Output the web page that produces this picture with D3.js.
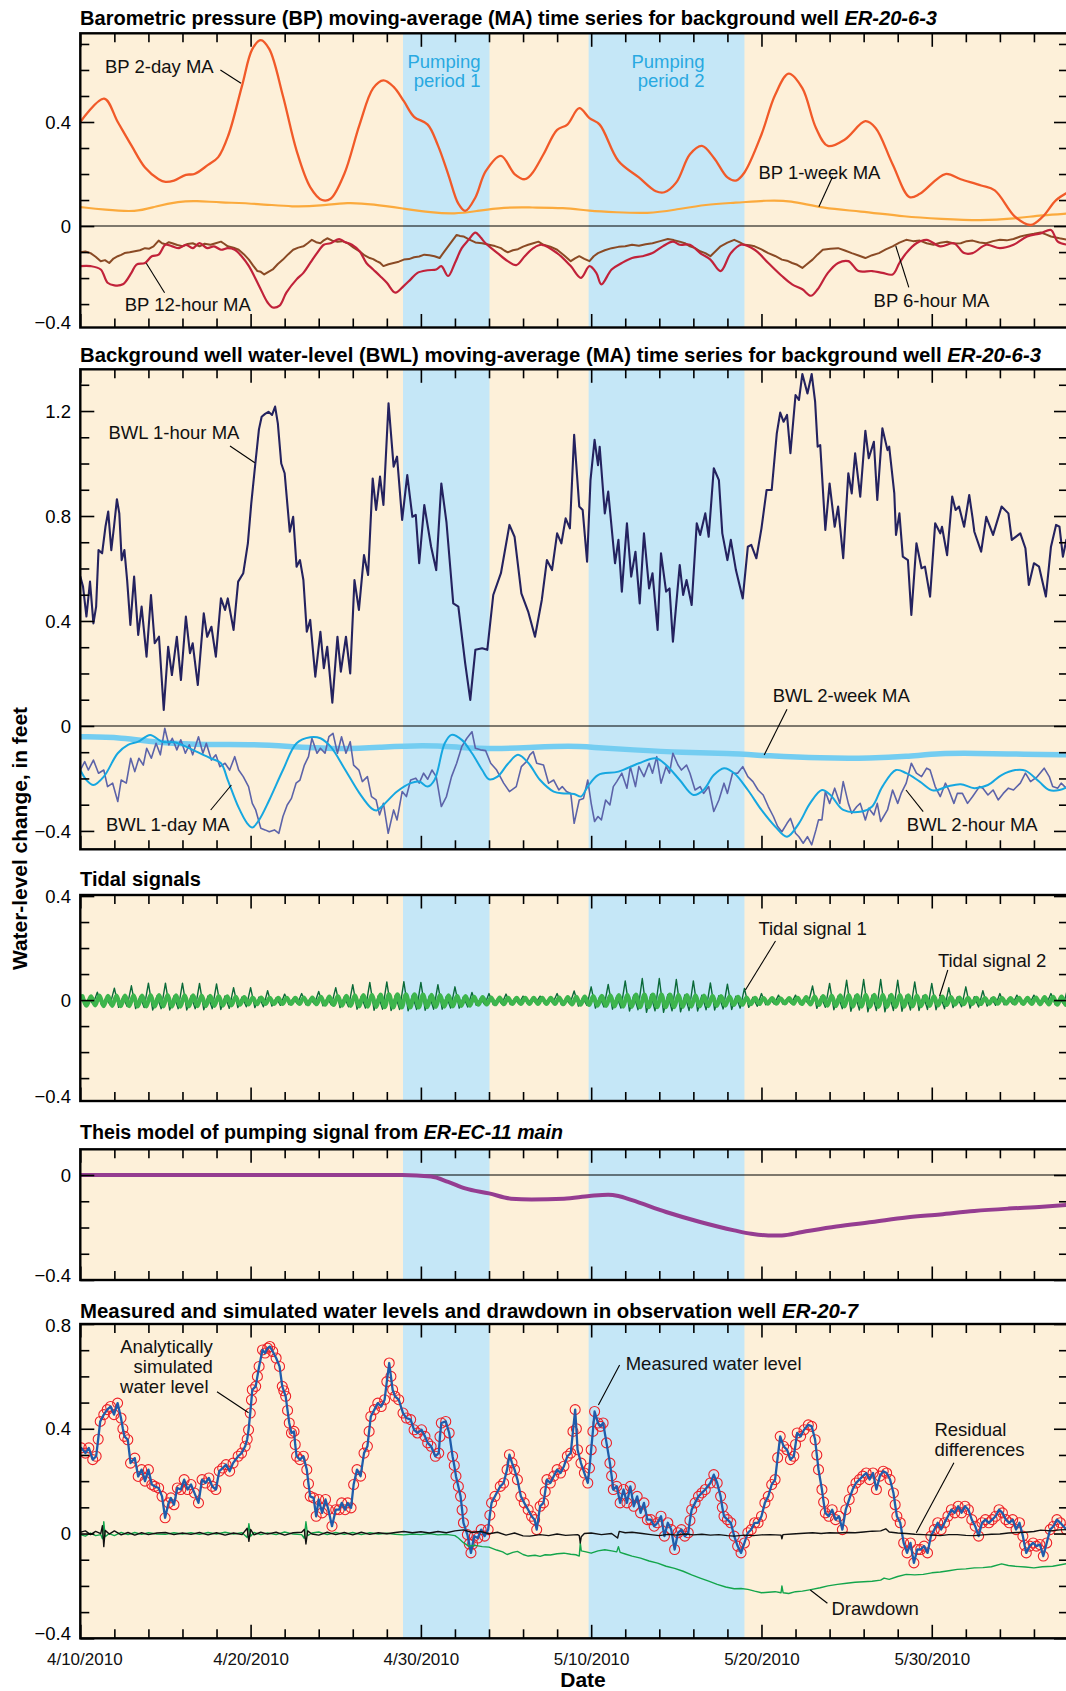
<!DOCTYPE html>
<html>
<head>
<meta charset="utf-8">
<script src="https://cdn.jsdelivr.net/npm/d3@7"></script>
<style>
  body { margin: 0; background: #fff; }
  svg { display: block; font-family: "Liberation Sans", Arial, Helvetica, sans-serif; }
</style>
</head>
<body>
<svg id="chart" width="1066" height="1691"></svg>
<script>
// ---------------------------------------------------------------------------
// Data: time is given in days after 4/10/2010 00:00, values in feet.
// ---------------------------------------------------------------------------

// Pumping periods at ER-EC-11 main [start day, end day]
const pumpingPeriods = [[18.95, 24.03], [29.85, 39.0]];

// Date tick labels (days after 4/10/2010)
const labelDays = [0, 10, 20, 30, 40, 50];

// Barometric pressure moving averages [day, value]
const bp2day = [[0,0.40],[1.4,0.49],[2.2,0.40],[3.0,0.31],[3.8,0.225],[4.6,0.18],[5.0,0.17],[5.5,0.175],[6.2,0.197],[6.7,0.20],[7.5,0.235],[8.1,0.265],[8.7,0.35],[9.5,0.54],[10.1,0.68],[10.6,0.715],[11.1,0.68],[11.9,0.50],[12.7,0.29],[13.5,0.15],[14.2,0.10],[14.7,0.105],[15.5,0.20],[16.4,0.39],[17.2,0.53],[17.8,0.56],[18.4,0.535],[19.0,0.48],[19.6,0.42],[20.4,0.39],[21.0,0.31],[21.6,0.20],[22.2,0.086],[22.6,0.058],[23.2,0.11],[23.8,0.21],[24.7,0.27],[25.5,0.20],[26.1,0.18],[26.5,0.20],[27.2,0.276],[28.0,0.37],[28.6,0.39],[29.3,0.453],[29.9,0.415],[30.5,0.39],[31.6,0.25],[32.8,0.187],[33.8,0.134],[34.3,0.13],[35.0,0.168],[35.8,0.276],[36.5,0.308],[37.2,0.263],[38.0,0.187],[38.5,0.175],[39.0,0.206],[40.0,0.352],[40.8,0.504],[41.6,0.586],[42.4,0.53],[43.2,0.377],[43.9,0.308],[44.9,0.333],[46.1,0.403],[46.7,0.377],[47.7,0.238],[48.7,0.111],[49.3,0.124],[50.8,0.20],[51.7,0.18],[52.9,0.156],[53.7,0.137],[54.9,0.035],[55.8,0.004],[56.5,0.035],[57.3,0.10],[58,0.13]];

const bp1week = [[0,0.073],[1.4,0.063],[3.3,0.053],[4.4,0.076],[5.8,0.095],[6.8,0.097],[8.1,0.091],[10.5,0.086],[12.5,0.073],[14.1,0.078],[15.7,0.092],[17.2,0.084],[19.0,0.067],[20.6,0.052],[22.0,0.046],[23.2,0.057],[24.9,0.073],[26.5,0.071],[28.4,0.071],[29.9,0.058],[31.4,0.053],[33.4,0.048],[34.8,0.061],[36.8,0.084],[38.4,0.089],[40.4,0.099],[41.6,0.099],[43.7,0.067],[45.7,0.058],[48.5,0.035],[50.5,0.028],[52.9,0.020],[54.9,0.029],[56.5,0.042],[58,0.048]];

const bp12hour = [[0,-0.154],[0.6,-0.154],[1.2,-0.167],[1.6,-0.218],[2.0,-0.228],[2.5,-0.224],[3.0,-0.18],[3.3,-0.148],[3.8,-0.142],[4.2,-0.116],[4.6,-0.11],[5.0,-0.072],[5.4,-0.078],[5.8,-0.085],[6.2,-0.072],[6.6,-0.085],[7.0,-0.066],[7.45,-0.085],[7.85,-0.078],[8.26,-0.091],[8.66,-0.085],[9.07,-0.091],[9.47,-0.116],[9.9,-0.154],[10.5,-0.23],[11.0,-0.294],[11.3,-0.313],[11.7,-0.306],[12.1,-0.256],[12.7,-0.205],[13.1,-0.18],[13.5,-0.142],[13.9,-0.104],[14.3,-0.072],[14.7,-0.066],[15.2,-0.05],[15.5,-0.06],[15.95,-0.072],[16.4,-0.097],[16.8,-0.142],[17.2,-0.167],[17.6,-0.192],[18.0,-0.218],[18.5,-0.256],[19.0,-0.23],[19.4,-0.205],[19.8,-0.18],[20.4,-0.17],[20.9,-0.167],[21.2,-0.154],[21.6,-0.192],[22.0,-0.142],[22.4,-0.085],[22.8,-0.053],[23.2,-0.025],[23.5,-0.043],[23.8,-0.066],[24.5,-0.104],[25.1,-0.135],[25.6,-0.15],[26.1,-0.116],[26.6,-0.085],[27.1,-0.072],[28.0,-0.104],[28.8,-0.154],[29.4,-0.199],[29.9,-0.154],[30.3,-0.18],[30.6,-0.224],[31.2,-0.167],[31.8,-0.142],[32.4,-0.123],[33.0,-0.116],[33.6,-0.104],[34.2,-0.078],[34.8,-0.06],[35.2,-0.072],[35.8,-0.072],[36.4,-0.104],[37.0,-0.129],[37.6,-0.173],[38.2,-0.104],[38.8,-0.072],[39.6,-0.091],[40.4,-0.142],[41.2,-0.192],[41.8,-0.224],[42.4,-0.243],[42.9,-0.268],[43.3,-0.243],[43.9,-0.18],[44.5,-0.142],[45.1,-0.135],[45.7,-0.173],[46.5,-0.173],[47.1,-0.18],[47.7,-0.186],[48.1,-0.142],[48.5,-0.104],[49.1,-0.066],[49.7,-0.053],[50.5,-0.078],[51.3,-0.066],[51.9,-0.104],[52.4,-0.104],[53.2,-0.072],[54.0,-0.085],[54.8,-0.072],[55.6,-0.04],[56.4,-0.028],[57.0,-0.015],[57.4,-0.06],[58,-0.072]];

const bp6hour = [[0,-0.101],[0.3,-0.098],[0.6,-0.104],[0.9,-0.118],[1.2,-0.135],[1.45,-0.131],[1.7,-0.142],[1.95,-0.125],[2.2,-0.116],[2.4,-0.111],[2.6,-0.104],[2.9,-0.101],[3.2,-0.097],[3.5,-0.093],[3.8,-0.085],[4.05,-0.087],[4.3,-0.078],[4.6,-0.056],[4.8,-0.066],[5.0,-0.07],[5.2,-0.062],[5.4,-0.066],[5.7,-0.073],[6.0,-0.078],[6.3,-0.069],[6.6,-0.066],[6.8,-0.072],[7.0,-0.078],[7.3,-0.068],[7.65,-0.072],[7.95,-0.066],[8.26,-0.06],[8.45,-0.068],[8.66,-0.078],[9.0,-0.083],[9.3,-0.091],[9.6,-0.108],[9.9,-0.129],[10.15,-0.152],[10.4,-0.173],[10.6,-0.176],[10.8,-0.186],[11.05,-0.176],[11.3,-0.167],[11.6,-0.146],[11.9,-0.129],[12.2,-0.109],[12.5,-0.091],[12.8,-0.083],[13.1,-0.078],[13.35,-0.066],[13.6,-0.053],[13.85,-0.062],[14.1,-0.066],[14.3,-0.055],[14.5,-0.047],[14.8,-0.056],[15.1,-0.06],[15.4,-0.058],[15.7,-0.066],[16.05,-0.083],[16.4,-0.097],[16.7,-0.113],[17.0,-0.123],[17.2,-0.127],[17.4,-0.135],[17.6,-0.141],[17.8,-0.154],[18.1,-0.147],[18.4,-0.142],[18.7,-0.137],[19.0,-0.129],[19.3,-0.127],[19.6,-0.12],[19.9,-0.117],[20.2,-0.11],[20.5,-0.112],[20.8,-0.116],[21.1,-0.123],[21.35,-0.1],[21.6,-0.078],[21.85,-0.056],[22.1,-0.034],[22.3,-0.038],[22.5,-0.04],[22.85,-0.052],[23.2,-0.063],[23.6,-0.066],[24.0,-0.072],[24.35,-0.077],[24.7,-0.085],[24.9,-0.094],[25.1,-0.101],[25.4,-0.093],[25.7,-0.089],[26.0,-0.079],[26.3,-0.072],[26.6,-0.066],[26.9,-0.06],[27.2,-0.072],[27.6,-0.079],[28.0,-0.091],[28.4,-0.112],[28.8,-0.135],[29.05,-0.124],[29.3,-0.116],[29.6,-0.126],[29.9,-0.135],[30.15,-0.116],[30.4,-0.104],[30.8,-0.093],[31.2,-0.085],[31.6,-0.08],[32.0,-0.078],[32.4,-0.072],[32.8,-0.076],[33.2,-0.07],[33.6,-0.066],[34.05,-0.058],[34.5,-0.05],[34.85,-0.054],[35.2,-0.06],[35.5,-0.066],[35.8,-0.078],[36.1,-0.085],[36.4,-0.097],[36.7,-0.104],[37.0,-0.116],[37.3,-0.097],[37.6,-0.078],[38.0,-0.064],[38.4,-0.053],[38.7,-0.062],[39.0,-0.072],[39.3,-0.074],[39.6,-0.078],[40.0,-0.09],[40.4,-0.104],[40.8,-0.115],[41.2,-0.129],[41.5,-0.133],[41.8,-0.142],[42.1,-0.149],[42.4,-0.161],[42.7,-0.145],[43.0,-0.129],[43.3,-0.109],[43.6,-0.091],[44.05,-0.087],[44.5,-0.085],[44.9,-0.094],[45.3,-0.104],[45.7,-0.113],[46.1,-0.123],[46.5,-0.112],[46.9,-0.104],[47.3,-0.09],[47.7,-0.078],[48.1,-0.064],[48.5,-0.053],[48.9,-0.058],[49.3,-0.056],[49.7,-0.066],[50.1,-0.072],[50.5,-0.064],[50.9,-0.06],[51.3,-0.067],[51.7,-0.066],[52.05,-0.058],[52.4,-0.056],[52.8,-0.063],[53.2,-0.066],[53.6,-0.058],[54.0,-0.053],[54.4,-0.055],[54.8,-0.05],[55.2,-0.04],[55.6,-0.034],[56.0,-0.03],[56.4,-0.025],[56.7,-0.032],[57.0,-0.04],[57.5,-0.047],[58,-0.053]];

// Background well water-level moving averages [day, value]
const bwl1hour = [[0,0.569],[0.16,0.531],[0.36,0.417],[0.57,0.55],[0.77,0.391],[0.93,0.455],[1.07,0.67],[1.28,0.658],[1.48,0.76],[1.64,0.817],[1.82,0.67],[1.98,0.76],[2.15,0.864],[2.29,0.81],[2.43,0.632],[2.59,0.67],[2.75,0.556],[2.94,0.385],[3.16,0.569],[3.4,0.347],[3.6,0.455],[3.89,0.264],[4.15,0.499],[4.37,0.315],[4.62,0.34],[4.9,0.061],[5.16,0.302],[5.38,0.194],[5.67,0.34],[5.91,0.175],[6.2,0.417],[6.44,0.277],[6.6,0.315],[6.9,0.156],[7.25,0.429],[7.45,0.34],[7.7,0.378],[7.96,0.264],[8.26,0.486],[8.5,0.442],[8.66,0.486],[9.0,0.366],[9.27,0.55],[9.57,0.582],[9.84,0.696],[10.04,0.848],[10.28,1.001],[10.49,1.13],[10.65,1.178],[10.85,1.189],[11.05,1.197],[11.26,1.185],[11.44,1.217],[11.6,1.153],[11.8,1.0],[12.0,0.963],[12.3,0.74],[12.5,0.797],[12.7,0.607],[12.9,0.632],[13.1,0.556],[13.3,0.359],[13.5,0.404],[13.8,0.188],[14.1,0.359],[14.3,0.22],[14.5,0.302],[14.8,0.089],[15.1,0.34],[15.3,0.207],[15.6,0.34],[15.85,0.2],[16.1,0.556],[16.36,0.442],[16.66,0.651],[16.9,0.575],[17.17,0.943],[17.37,0.823],[17.6,0.95],[17.8,0.842],[18.1,1.229],[18.4,0.988],[18.6,1.026],[18.9,0.785],[19.2,0.956],[19.5,0.797],[19.7,0.804],[19.9,0.62],[20.2,0.842],[20.6,0.683],[20.9,0.594],[21.2,0.924],[21.5,0.778],[21.9,0.467],[22.2,0.455],[22.6,0.239],[22.9,0.099],[23.2,0.29],[23.6,0.296],[23.9,0.29],[24.25,0.499],[24.7,0.582],[25.2,0.766],[25.5,0.721],[25.9,0.505],[26.3,0.436],[26.7,0.34],[27.1,0.48],[27.4,0.632],[27.7,0.594],[28.0,0.734],[28.25,0.696],[28.5,0.791],[28.75,0.753],[29.0,1.109],[29.3,0.836],[29.5,0.823],[29.76,0.626],[29.96,0.937],[30.2,1.09],[30.4,0.994],[30.5,1.064],[30.8,0.81],[31.0,0.893],[31.4,0.62],[31.6,0.709],[31.8,0.512],[32.1,0.772],[32.35,0.569],[32.6,0.664],[32.85,0.467],[33.1,0.734],[33.4,0.524],[33.6,0.582],[33.9,0.366],[34.1,0.658],[34.4,0.512],[34.6,0.524],[34.8,0.321],[35.2,0.613],[35.4,0.499],[35.6,0.556],[35.9,0.461],[36.2,0.772],[36.4,0.728],[36.7,0.81],[36.9,0.721],[37.2,0.982],[37.5,0.937],[37.7,0.734],[38.0,0.632],[38.2,0.709],[38.5,0.594],[38.9,0.486],[39.2,0.683],[39.4,0.69],[39.7,0.639],[40.0,0.753],[40.3,0.899],[40.6,0.899],[40.9,1.115],[41.1,1.194],[41.3,1.159],[41.5,1.185],[41.7,1.039],[42.0,1.261],[42.2,1.242],[42.4,1.341],[42.7,1.267],[42.95,1.341],[43.15,1.236],[43.3,1.064],[43.45,1.07],[43.75,0.747],[44.0,0.924],[44.3,0.759],[44.5,0.836],[44.8,0.639],[45.1,0.963],[45.3,0.886],[45.5,1.039],[45.8,0.874],[46.1,1.125],[46.3,1.02],[46.6,1.083],[46.8,0.861],[47.1,1.134],[47.4,1.051],[47.5,1.064],[47.8,0.886],[47.9,0.728],[48.1,0.81],[48.3,0.645],[48.6,0.632],[48.8,0.423],[49.1,0.696],[49.4,0.601],[49.6,0.607],[49.9,0.493],[50.2,0.772],[50.5,0.734],[50.6,0.759],[50.9,0.651],[51.2,0.874],[51.4,0.823],[51.6,0.836],[51.9,0.759],[52.2,0.88],[52.4,0.791],[52.5,0.74],[52.9,0.664],[53.2,0.797],[53.6,0.728],[54.1,0.836],[54.5,0.81],[54.7,0.709],[55.2,0.734],[55.5,0.677],[55.7,0.537],[56.0,0.62],[56.3,0.607],[56.7,0.493],[57.0,0.683],[57.3,0.766],[57.5,0.759],[57.7,0.645],[57.9,0.709]];

const bwl2hour = [[0,-0.168],[0.26,-0.136],[0.47,-0.168],[0.77,-0.13],[1.07,-0.18],[1.38,-0.168],[1.6,-0.231],[1.9,-0.218],[2.2,-0.288],[2.4,-0.206],[2.7,-0.218],[2.96,-0.123],[3.2,-0.174],[3.44,-0.123],[3.7,-0.149],[3.9,-0.085],[4.17,-0.123],[4.45,-0.066],[4.7,-0.11],[4.96,-0.009],[5.2,-0.072],[5.4,-0.047],[5.67,-0.091],[5.9,-0.053],[6.17,-0.104],[6.4,-0.072],[6.6,-0.11],[6.94,-0.041],[7.2,-0.104],[7.4,-0.066],[7.7,-0.13],[7.96,-0.11],[8.2,-0.155],[8.5,-0.142],[8.77,-0.168],[9.07,-0.117],[9.3,-0.168],[9.57,-0.193],[9.88,-0.231],[10.1,-0.295],[10.3,-0.32],[10.6,-0.39],[10.85,-0.396],[11.1,-0.403],[11.4,-0.396],[11.66,-0.409],[11.9,-0.345],[12.15,-0.301],[12.4,-0.276],[12.67,-0.218],[12.9,-0.206],[13.16,-0.149],[13.4,-0.117],[13.6,-0.047],[13.9,-0.104],[14.1,-0.085],[14.37,-0.104],[14.6,-0.041],[14.84,-0.028],[15.1,-0.104],[15.34,-0.041],[15.6,-0.104],[15.85,-0.06],[16.05,-0.149],[16.36,-0.168],[16.56,-0.212],[16.86,-0.193],[17.1,-0.269],[17.37,-0.282],[17.57,-0.339],[17.8,-0.295],[18.08,-0.409],[18.4,-0.32],[18.6,-0.358],[18.9,-0.25],[19.15,-0.269],[19.4,-0.206],[19.7,-0.199],[19.9,-0.218],[20.16,-0.18],[20.4,-0.203],[20.65,-0.168],[20.9,-0.193],[21.2,-0.307],[21.5,-0.269],[21.8,-0.193],[22.1,-0.142],[22.4,-0.079],[22.7,-0.047],[23.0,-0.022],[23.2,-0.085],[23.5,-0.091],[23.8,-0.094],[24.1,-0.142],[24.45,-0.168],[24.86,-0.218],[25.2,-0.25],[25.6,-0.231],[25.9,-0.155],[26.2,-0.136],[26.4,-0.11],[26.6,-0.098],[26.8,-0.142],[27.2,-0.149],[27.5,-0.218],[27.8,-0.206],[28.1,-0.244],[28.3,-0.231],[28.55,-0.25],[28.8,-0.257],[29.0,-0.371],[29.3,-0.282],[29.55,-0.276],[29.8,-0.206],[30.0,-0.295],[30.2,-0.364],[30.4,-0.345],[30.6,-0.358],[30.85,-0.282],[31.1,-0.301],[31.3,-0.231],[31.5,-0.212],[31.8,-0.18],[32.1,-0.237],[32.3,-0.155],[32.6,-0.231],[32.8,-0.155],[33.1,-0.193],[33.4,-0.142],[33.6,-0.18],[33.85,-0.117],[34.1,-0.218],[34.4,-0.155],[34.6,-0.18],[34.8,-0.104],[35.1,-0.149],[35.3,-0.168],[35.6,-0.149],[35.8,-0.18],[36.1,-0.244],[36.4,-0.231],[36.6,-0.257],[36.9,-0.231],[37.2,-0.326],[37.5,-0.282],[37.8,-0.218],[38.0,-0.257],[38.3,-0.18],[38.6,-0.18],[38.9,-0.155],[39.2,-0.193],[39.5,-0.212],[39.8,-0.244],[40.1,-0.263],[40.4,-0.307],[40.7,-0.345],[40.95,-0.383],[41.2,-0.403],[41.5,-0.371],[41.7,-0.352],[42.0,-0.409],[42.2,-0.422],[42.45,-0.447],[42.7,-0.422],[42.95,-0.453],[43.2,-0.396],[43.35,-0.358],[43.55,-0.358],[43.75,-0.25],[44.0,-0.295],[44.3,-0.237],[44.6,-0.295],[44.8,-0.212],[45.1,-0.295],[45.3,-0.333],[45.6,-0.307],[45.8,-0.295],[46.1,-0.358],[46.3,-0.314],[46.6,-0.339],[46.8,-0.295],[47.0,-0.364],[47.4,-0.32],[47.7,-0.244],[48.0,-0.295],[48.2,-0.257],[48.5,-0.218],[48.8,-0.142],[49.1,-0.18],[49.4,-0.193],[49.7,-0.161],[49.9,-0.168],[50.2,-0.231],[50.5,-0.269],[50.8,-0.218],[51.0,-0.244],[51.3,-0.295],[51.5,-0.257],[51.8,-0.257],[52.1,-0.295],[52.4,-0.269],[52.8,-0.231],[53.0,-0.237],[53.3,-0.263],[53.6,-0.244],[53.9,-0.282],[54.2,-0.257],[54.5,-0.237],[54.8,-0.244],[55.2,-0.218],[55.5,-0.18],[55.8,-0.212],[56.2,-0.193],[56.6,-0.161],[56.9,-0.193],[57.1,-0.231],[57.4,-0.237],[57.6,-0.218],[57.9,-0.237]];

const bwl1day = [[0,-0.168],[0.36,-0.206],[0.77,-0.225],[1.38,-0.193],[2.2,-0.104],[2.8,-0.072],[3.4,-0.06],[4.1,-0.034],[4.8,-0.06],[5.6,-0.063],[6.6,-0.091],[7.65,-0.123],[8.26,-0.142],[8.66,-0.206],[9.27,-0.307],[9.8,-0.371],[10.1,-0.387],[10.5,-0.358],[11.1,-0.282],[11.9,-0.168],[12.7,-0.066],[13.5,-0.043],[14.1,-0.047],[14.7,-0.079],[15.5,-0.161],[16.4,-0.257],[17.1,-0.314],[17.4,-0.322],[17.8,-0.301],[18.6,-0.25],[19.4,-0.218],[19.9,-0.212],[20.4,-0.231],[20.8,-0.206],[21.4,-0.066],[21.8,-0.034],[22.4,-0.053],[23.0,-0.104],[23.6,-0.168],[24.0,-0.203],[24.5,-0.193],[25.1,-0.145],[25.7,-0.11],[26.3,-0.14],[27.0,-0.206],[27.8,-0.25],[28.4,-0.257],[29.0,-0.259],[29.4,-0.269],[29.8,-0.231],[30.4,-0.187],[31.6,-0.174],[32.8,-0.142],[33.8,-0.123],[34.4,-0.149],[35.2,-0.206],[36.0,-0.263],[36.6,-0.244],[37.2,-0.187],[37.8,-0.161],[38.4,-0.18],[39.2,-0.244],[40.0,-0.32],[40.8,-0.383],[41.5,-0.422],[42.2,-0.371],[42.85,-0.295],[43.55,-0.244],[44.05,-0.263],[44.8,-0.32],[45.9,-0.326],[46.5,-0.307],[47.1,-0.231],[47.9,-0.168],[48.5,-0.18],[49.3,-0.212],[50.1,-0.246],[50.9,-0.231],[51.7,-0.222],[52.5,-0.237],[53.3,-0.225],[54.1,-0.187],[54.9,-0.168],[55.5,-0.17],[56.3,-0.212],[56.9,-0.244],[57.5,-0.244],[58,-0.231]];

const bwl2week = [[0,-0.041],[2.4,-0.043],[4.8,-0.066],[7.45,-0.072],[9.9,-0.069],[12.5,-0.079],[15.5,-0.089],[17.6,-0.081],[20.2,-0.072],[22.2,-0.081],[24.25,-0.089],[26.7,-0.081],[28.8,-0.076],[30,-0.081],[32.4,-0.091],[35.4,-0.102],[38,-0.104],[40.4,-0.114],[43.45,-0.123],[46.5,-0.123],[48.5,-0.117],[50.5,-0.104],[52.5,-0.104],[55.5,-0.108],[58,-0.11]];

// Tidal signals: one row per day; the hours of each row's values are listed separately
const tidal1Hours = [0, 6, 12, 18];
const tidal1 = [
  [0.025,-0.018,0.006,-0.015],[0.03,-0.02,0.008,-0.018],[0.046,-0.028,0.012,-0.025],[0.055,-0.033,0.014,-0.029],
  [0.065,-0.038,0.016,-0.033],[0.065,-0.038,0.016,-0.033],[0.065,-0.038,0.016,-0.033],[0.064,-0.037,0.016,-0.033],
  [0.062,-0.036,0.016,-0.032],[0.048,-0.029,0.012,-0.026],[0.048,-0.029,0.012,-0.026],[0.036,-0.023,0.009,-0.02],
  [0.023,-0.017,0.006,-0.014],[0.025,-0.018,0.006,-0.015],[0.033,-0.022,0.008,-0.019],[0.048,-0.029,0.012,-0.026],
  [0.059,-0.035,0.015,-0.031],[0.068,-0.039,0.017,-0.035],[0.07,-0.04,0.018,-0.036],[0.071,-0.041,0.018,-0.036],
  [0.068,-0.039,0.017,-0.035],[0.059,-0.035,0.015,-0.031],[0.051,-0.031,0.013,-0.027],[0.029,-0.02,0.007,-0.017],
  [0.025,-0.018,0.006,-0.015],[0.023,-0.017,0.006,-0.014],[0.015,-0.013,0.004,-0.011],[0.015,-0.013,0.004,-0.011],
  [0.025,-0.018,0.006,-0.015],[0.035,-0.023,0.009,-0.02],[0.051,-0.031,0.013,-0.027],[0.06,-0.035,0.015,-0.031],
  [0.074,-0.042,0.019,-0.037],[0.083,-0.047,0.021,-0.041],[0.083,-0.047,0.021,-0.041],[0.079,-0.045,0.02,-0.04],
  [0.074,-0.042,0.019,-0.037],[0.066,-0.038,0.017,-0.034],[0.061,-0.036,0.015,-0.031],[0.045,-0.028,0.011,-0.024],
  [0.025,-0.018,0.006,-0.015],[0.019,-0.015,0.005,-0.013],[0.019,-0.015,0.005,-0.013],[0.054,-0.032,0.014,-0.028],
  [0.064,-0.037,0.016,-0.033],[0.076,-0.043,0.019,-0.038],[0.079,-0.045,0.02,-0.04],[0.079,-0.045,0.02,-0.04],
  [0.076,-0.043,0.019,-0.038],[0.07,-0.04,0.018,-0.036],[0.064,-0.037,0.016,-0.033],[0.048,-0.029,0.012,-0.026],
  [0.051,-0.031,0.013,-0.027],[0.036,-0.023,0.009,-0.02],[0.025,-0.018,0.006,-0.015],[0.019,-0.015,0.005,-0.013],
  [0.019,-0.015,0.005,-0.013],[0.025,-0.018,0.006,-0.015],[0.051,-0.031,0.013,-0.027]
];
const tidal2Hours = [3, 9, 15, 21];
const tidal2 = [
  [0.015,-0.021,0.014,-0.02],[0.017,-0.023,0.016,-0.022],[0.017,-0.023,0.017,-0.023],[0.018,-0.024,0.017,-0.024],
  [0.019,-0.025,0.019,-0.024],[0.019,-0.025,0.018,-0.025],[0.018,-0.024,0.018,-0.023],[0.017,-0.023,0.016,-0.022],
  [0.015,-0.021,0.014,-0.02],[0.012,-0.018,0.011,-0.017],[0.01,-0.016,0.01,-0.015],[0.009,-0.015,0.009,-0.015],
  [0.009,-0.015,0.009,-0.015],[0.01,-0.016,0.01,-0.016],[0.012,-0.018,0.013,-0.019],[0.015,-0.021,0.016,-0.022],
  [0.018,-0.024,0.019,-0.025],[0.02,-0.026,0.021,-0.027],[0.022,-0.028,0.022,-0.028],[0.022,-0.028,0.022,-0.028],
  [0.021,-0.027,0.02,-0.026],[0.019,-0.025,0.018,-0.024],[0.016,-0.022,0.015,-0.021],[0.012,-0.018,0.011,-0.017],
  [0.01,-0.016,0.01,-0.016],[0.009,-0.015,0.009,-0.015],[0.009,-0.015,0.009,-0.015],[0.009,-0.015,0.009,-0.015],
  [0.01,-0.016,0.011,-0.017],[0.012,-0.018,0.013,-0.019],[0.015,-0.021,0.016,-0.022],[0.018,-0.024,0.019,-0.025],
  [0.02,-0.026,0.021,-0.027],[0.021,-0.027,0.021,-0.027],[0.021,-0.027,0.021,-0.027],[0.02,-0.026,0.019,-0.025],
  [0.018,-0.024,0.017,-0.023],[0.016,-0.022,0.015,-0.021],[0.013,-0.019,0.012,-0.018],[0.01,-0.016,0.009,-0.015],
  [0.008,-0.014,0.008,-0.014],[0.007,-0.013,0.008,-0.014],[0.009,-0.015,0.011,-0.017],[0.013,-0.019,0.015,-0.021],
  [0.017,-0.023,0.018,-0.024],[0.019,-0.025,0.019,-0.025],[0.02,-0.026,0.02,-0.026],[0.02,-0.026,0.02,-0.026],
  [0.019,-0.025,0.018,-0.024],[0.017,-0.023,0.016,-0.022],[0.014,-0.02,0.013,-0.019],[0.011,-0.017,0.01,-0.016],
  [0.009,-0.015,0.009,-0.015],[0.008,-0.014,0.008,-0.014],[0.008,-0.014,0.008,-0.014],[0.009,-0.015,0.009,-0.015],
  [0.01,-0.016,0.011,-0.017],[0.012,-0.018,0.013,-0.019],[0.014,-0.02,0.014,-0.02]
];

// Theis model of the pumping signal [day, value]
const theis = [[0,0],[18.9,0],[20.6,-0.006],[21.6,-0.026],[22.6,-0.051],[24.0,-0.07],[25.3,-0.09],[26.5,-0.093],[28.4,-0.09],[29.9,-0.08],[31.0,-0.075],[31.6,-0.08],[32.4,-0.096],[34.4,-0.141],[36.4,-0.179],[38.4,-0.211],[39.4,-0.224],[40.4,-0.23],[41.2,-0.23],[42.4,-0.217],[44.4,-0.196],[46.5,-0.179],[48.5,-0.162],[50.5,-0.15],[52.5,-0.137],[54.5,-0.128],[56.5,-0.121],[58,-0.114]];

// Observation well ER-20-7 [day, value]
const measured = [[0.06,0.327],[0.3,0.307],[0.5,0.327],[0.73,0.282],[0.93,0.295],[1.05,0.36],[1.17,0.428],[1.38,0.454],[1.58,0.473],[1.78,0.485],[1.98,0.454],[2.19,0.498],[2.39,0.441],[2.5,0.4],[2.59,0.371],[2.79,0.358],[2.95,0.269],[3.2,0.288],[3.4,0.218],[3.6,0.244],[3.8,0.2],[4.0,0.244],[4.2,0.187],[4.37,0.18],[4.6,0.174],[4.8,0.142],[4.98,0.06],[5.18,0.117],[5.32,0.136],[5.5,0.11],[5.7,0.174],[5.9,0.168],[6.1,0.206],[6.3,0.168],[6.5,0.187],[6.7,0.155],[6.94,0.117],[7.15,0.206],[7.35,0.193],[7.55,0.212],[7.75,0.18],[7.96,0.168],[8.16,0.238],[8.36,0.25],[8.56,0.263],[8.77,0.238],[8.97,0.269],[9.27,0.295],[9.47,0.307],[9.68,0.333],[9.8,0.36],[9.88,0.396],[9.98,0.46],[10.05,0.51],[10.1,0.549],[10.3,0.562],[10.4,0.6],[10.5,0.638],[10.7,0.701],[10.85,0.689],[11.0,0.708],[11.13,0.714],[11.3,0.695],[11.5,0.67],[11.7,0.638],[11.86,0.562],[11.95,0.545],[12.06,0.524],[12.17,0.47],[12.27,0.422],[12.4,0.384],[12.55,0.39],[12.62,0.34],[12.7,0.295],[12.9,0.282],[13.1,0.295],[13.3,0.244],[13.4,0.19],[13.5,0.142],[13.7,0.136],[13.85,0.066],[14.0,0.13],[14.2,0.079],[14.4,0.13],[14.57,0.091],[14.78,0.028],[15.0,0.091],[15.2,0.091],[15.35,0.117],[15.55,0.091],[15.7,0.117],[15.9,0.098],[16.05,0.187],[16.25,0.244],[16.46,0.219],[16.66,0.307],[16.86,0.333],[16.96,0.39],[17.06,0.447],[17.27,0.473],[17.47,0.498],[17.67,0.485],[17.87,0.511],[18.0,0.58],[18.14,0.651],[18.24,0.6],[18.34,0.549],[18.48,0.524],[18.7,0.511],[18.95,0.46],[19.15,0.441],[19.4,0.435],[19.6,0.396],[19.8,0.384],[20.04,0.396],[20.24,0.371],[20.4,0.346],[20.6,0.333],[20.85,0.295],[21.05,0.307],[21.12,0.37],[21.2,0.422],[21.46,0.428],[21.66,0.384],[21.86,0.295],[21.96,0.26],[22.06,0.219],[22.2,0.18],[22.33,0.142],[22.42,0.09],[22.5,0.041],[22.73,-0.004],[22.84,-0.04],[22.94,-0.074],[23.04,-0.04],[23.14,-0.01],[23.34,-0.017],[23.54,0.015],[23.74,-0.01],[23.95,0.015],[24.05,0.07],[24.15,0.117],[24.35,0.142],[24.66,0.18],[24.86,0.193],[25.06,0.244],[25.2,0.301],[25.35,0.27],[25.5,0.244],[25.67,0.206],[25.87,0.142],[26.07,0.117],[26.3,0.091],[26.5,0.066],[26.68,0.053],[26.8,0.015],[27.0,0.104],[27.2,0.117],[27.3,0.16],[27.4,0.206],[27.6,0.193],[27.8,0.219],[28.0,0.244],[28.2,0.231],[28.4,0.257],[28.6,0.295],[28.8,0.307],[28.93,0.39],[29.06,0.473],[29.13,0.4],[29.2,0.32],[29.4,0.269],[29.6,0.231],[29.8,0.193],[29.9,0.25],[30.0,0.32],[30.1,0.39],[30.2,0.466],[30.4,0.422],[30.54,0.409],[30.7,0.422],[30.9,0.346],[31.1,0.269],[31.2,0.22],[31.3,0.168],[31.5,0.18],[31.7,0.117],[31.9,0.168],[32.1,0.117],[32.3,0.18],[32.5,0.104],[32.7,0.142],[32.9,0.079],[33.1,0.117],[33.3,0.053],[33.5,0.053],[33.7,0.028],[33.9,0.041],[34.1,0.066],[34.3,-0.01],[34.5,0.041],[34.7,0.015],[34.9,-0.061],[35.1,0.003],[35.3,0.015],[35.5,-0.01],[35.7,0.003],[35.8,0.05],[35.9,0.091],[36.1,0.117],[36.3,0.142],[36.5,0.155],[36.7,0.168],[37.0,0.193],[37.2,0.225],[37.4,0.193],[37.6,0.142],[37.7,0.1],[37.8,0.066],[38.0,0.053],[38.2,0.041],[38.4,-0.01],[38.6,-0.048],[38.8,-0.074],[39.0,-0.036],[39.2,0.003],[39.4,0.015],[39.6,0.041],[39.8,0.041],[40.0,0.066],[40.2,0.117],[40.4,0.142],[40.6,0.187],[40.8,0.206],[40.95,0.29],[41.1,0.371],[41.3,0.333],[41.5,0.32],[41.7,0.282],[41.9,0.295],[42.0,0.34],[42.1,0.384],[42.3,0.371],[42.5,0.396],[42.75,0.415],[42.95,0.409],[43.15,0.358],[43.25,0.3],[43.35,0.244],[43.55,0.168],[43.65,0.12],[43.75,0.079],[43.95,0.066],[44.15,0.091],[44.35,0.053],[44.55,0.066],[44.75,0.015],[44.95,0.091],[45.15,0.13],[45.35,0.168],[45.55,0.193],[45.75,0.206],[45.95,0.219],[46.15,0.231],[46.35,0.206],[46.55,0.231],[46.75,0.168],[46.95,0.219],[47.15,0.238],[47.35,0.231],[47.55,0.206],[47.75,0.155],[47.85,0.11],[47.95,0.066],[48.15,0.041],[48.35,-0.036],[48.55,-0.074],[48.75,-0.036],[48.95,-0.112],[49.15,-0.061],[49.35,-0.061],[49.55,-0.048],[49.75,-0.074],[49.95,-0.01],[50.15,0.015],[50.35,0.041],[50.55,0.015],[50.75,0.041],[50.95,0.066],[51.15,0.091],[51.35,0.079],[51.55,0.104],[51.75,0.079],[51.95,0.104],[52.15,0.091],[52.35,0.053],[52.55,0.028],[52.75,-0.01],[52.95,0.041],[53.15,0.053],[53.35,0.041],[53.55,0.053],[53.75,0.066],[53.95,0.091],[54.15,0.079],[54.35,0.053],[54.55,0.041],[54.75,0.053],[54.95,0.015],[55.15,0.041],[55.35,-0.01],[55.45,-0.045],[55.55,-0.074],[55.75,-0.048],[55.95,-0.036],[56.15,-0.048],[56.35,-0.042],[56.55,-0.086],[56.75,-0.036],[56.95,0.015],[57.15,0.028],[57.35,0.053],[57.55,0.041],[57.9,0.015]];

// The analytic simulation follows the measurements to within the residuals below
const simulated = measured;

const residual = [[0,0.005],[0.3,0.01],[0.6,-0.004],[0.9,0.008],[1.2,0.0],[1.3,0.03],[1.38,-0.05],[1.46,0.012],[1.7,-0.002],[2.0,0.01],[2.4,-0.005],[2.8,0.004],[3.2,-0.006],[3.6,0.003],[4.0,-0.004],[4.5,0.002],[5.0,0.004],[5.5,-0.004],[6.0,0.002],[6.5,-0.003],[7.0,0.004],[7.5,-0.005],[8.0,0.003],[8.5,-0.006],[9.0,0.002],[9.5,-0.004],[9.8,0.02],[9.9,-0.03],[10.0,0.016],[10.2,-0.005],[10.6,0.005],[11.0,-0.002],[11.5,0.005],[12.0,-0.006],[12.5,0.003],[13.0,0.005],[13.15,0.016],[13.25,-0.04],[13.35,0.01],[13.6,-0.002],[14.0,-0.006],[14.5,0.005],[15.0,-0.004],[15.5,0.004],[16.0,-0.005],[16.5,0.005],[17.0,-0.003],[17.5,0.003],[18.0,-0.001],[18.5,0.004],[19.0,0.008],[19.5,0.003],[20.0,0.007],[20.5,0.002],[21.0,0.008],[21.5,0.003],[22.0,0.01],[22.5,0.014],[23.0,0.004],[23.5,0.008],[24.0,-0.001],[24.5,0.005],[25.0,-0.006],[25.5,0.002],[26.0,-0.009],[26.4,-0.01],[27.0,-0.004],[27.5,-0.008],[28.0,-0.002],[28.5,-0.007],[29.2,-0.004],[29.3,-0.008],[29.36,-0.036],[29.42,-0.012],[29.6,0.0],[30.0,0.002],[30.6,-0.004],[31.2,0.0],[31.55,-0.017],[31.65,0.008],[32.0,0.003],[32.4,0.005],[33.0,0.0],[33.5,-0.004],[34.0,-0.008],[34.5,-0.003],[35.0,-0.006],[35.5,-0.002],[36.0,-0.005],[36.5,-0.003],[37.0,-0.006],[37.5,-0.004],[38.0,-0.008],[38.4,-0.01],[39.0,-0.006],[39.5,-0.008],[40.0,-0.005],[40.5,-0.004],[41.15,-0.006],[41.2,-0.02],[41.26,-0.004],[41.8,-0.002],[42.5,0.001],[43.0,0.003],[43.5,0.0],[44.0,0.003],[44.5,0.002],[45.0,0.004],[45.5,0.003],[46.0,0.006],[46.5,0.009],[47.0,0.01],[47.3,0.018],[47.5,0.006],[48.0,0.002],[48.5,0.0],[49.0,-0.003],[49.5,-0.004],[50.0,-0.006],[50.5,-0.008],[51.0,-0.004],[51.5,-0.004],[52.0,-0.007],[52.5,-0.008],[53.0,-0.005],[53.5,-0.003],[54.0,-0.002],[54.5,0.002],[55.0,0.004],[55.5,0.005],[56.0,0.008],[56.4,0.013],[57.0,0.01],[57.5,0.014],[58,0.015]];

const drawdown = [[0,-0.004],[0.3,-0.01],[0.6,0.002],[0.9,-0.008],[1.2,-0.004],[1.3,-0.02],[1.38,0.045],[1.46,-0.012],[1.7,0.0],[2.0,-0.008],[2.4,0.004],[2.8,-0.004],[3.2,0.004],[3.6,-0.003],[4.0,0.003],[4.5,-0.002],[5.0,-0.003],[5.5,0.003],[6.0,-0.002],[6.5,0.003],[7.0,-0.003],[7.5,0.004],[8.0,-0.002],[8.5,0.005],[9.0,-0.002],[9.5,0.003],[9.8,-0.015],[9.9,0.038],[10.0,-0.01],[10.2,0.004],[10.6,-0.004],[11.0,0.002],[11.5,-0.004],[12.0,0.006],[12.5,-0.002],[13.0,-0.004],[13.15,-0.018],[13.25,0.045],[13.35,-0.008],[13.6,0.002],[14.0,0.006],[14.5,-0.004],[15.0,0.004],[15.5,-0.003],[16.0,0.004],[16.5,-0.004],[17.0,0.003],[17.5,-0.002],[18.0,0.001],[18.5,-0.003],[19.0,-0.005],[19.5,-0.002],[20.0,-0.004],[20.5,0.0],[21.0,-0.005],[21.5,-0.003],[22.0,-0.008],[22.2,-0.017],[22.5,-0.035],[22.8,-0.048],[23.2,-0.045],[23.6,-0.05],[24.0,-0.052],[24.45,-0.063],[24.8,-0.07],[25.06,-0.08],[25.4,-0.072],[25.67,-0.068],[26.0,-0.08],[26.3,-0.086],[26.7,-0.083],[27.0,-0.087],[27.3,-0.081],[27.6,-0.082],[28.0,-0.077],[28.4,-0.075],[28.8,-0.079],[29.1,-0.081],[29.3,-0.086],[29.36,-0.036],[29.42,-0.066],[29.7,-0.07],[30.0,-0.075],[30.4,-0.066],[30.8,-0.062],[31.2,-0.066],[31.5,-0.07],[31.6,-0.05],[31.7,-0.072],[32.0,-0.078],[32.4,-0.086],[32.9,-0.094],[33.4,-0.105],[33.9,-0.113],[34.4,-0.125],[34.9,-0.133],[35.4,-0.144],[35.9,-0.158],[36.4,-0.17],[36.9,-0.182],[37.4,-0.194],[37.9,-0.204],[38.4,-0.211],[38.8,-0.21],[39.2,-0.213],[39.6,-0.22],[40.0,-0.226],[40.4,-0.224],[40.8,-0.222],[41.15,-0.226],[41.2,-0.2],[41.27,-0.226],[41.6,-0.229],[42.0,-0.222],[42.4,-0.22],[42.9,-0.214],[43.45,-0.207],[43.9,-0.2],[44.46,-0.194],[45.0,-0.19],[45.5,-0.186],[46.0,-0.184],[46.5,-0.182],[47.0,-0.178],[47.2,-0.17],[47.5,-0.175],[48.0,-0.164],[48.5,-0.156],[49.0,-0.158],[49.5,-0.156],[50.0,-0.15],[50.5,-0.147],[51.0,-0.142],[51.5,-0.137],[52.0,-0.135],[52.5,-0.131],[53.0,-0.13],[53.5,-0.127],[54.1,-0.116],[54.5,-0.122],[54.9,-0.125],[55.5,-0.128],[56.0,-0.131],[56.5,-0.127],[57.1,-0.125],[57.5,-0.12],[58,-0.114]];

// ---------------------------------------------------------------------------
// Drawing
// ---------------------------------------------------------------------------
const COLORS = {
  bg: '#fdf0d9', band: '#c5e7f7', pumpText: '#29a9e1',
  bp2day: '#f15a29', bp1week: '#fbaa3d', bp12hour: '#c1223a', bp6hour: '#8a4a25',
  bwl1hour: '#24225f', bwl2week: '#74cdf1', bwl1day: '#16a7e0', bwl2hour: '#5c63a9',
  tidal1: '#0b6a39', tidal2: '#3db54c', theis: '#953d91',
  measured: '#ee2228', simulated: '#1f5cab', residual: '#111111', drawdown: '#13a54b'
};

const START = new Date(2010, 3, 10);
const dayToDate = d => new Date(START.getTime() + d * 86400000);
const X0 = 80.3, X1 = 1068;
const x = d3.scaleTime().domain([dayToDate(0), dayToDate(58)]).range([X0, X1]);

const svg = d3.select('#chart');
const defs = svg.append('defs');

const panels = {
  bp:    { top: 33.3,   bottom: 327.5,  domain: [-0.39, 0.741],  labels: [0.4, 0, -0.4], zero: true },
  bwl:   { top: 369.3,  bottom: 849.3,  domain: [-0.47, 1.359],  labels: [1.2, 0.8, 0.4, 0, -0.4], zero: true },
  tide:  { top: 895,    bottom: 1101,   domain: [-0.388, 0.404], labels: [0.4, 0, -0.4], zero: false },
  theis: { top: 1149.3, bottom: 1280,   domain: [-0.4, 0.098],   labels: [0, -0.4], zero: true },
  obs:   { top: 1324,   bottom: 1638.3, domain: [-0.4, 0.8],     labels: [0.8, 0.4, 0, -0.4], zero: false }
};

function setupPanel(id) {
  const p = panels[id];
  p.y = d3.scaleLinear().domain(p.domain).range([p.bottom, p.top]);
  p.g = svg.append('g').attr('class', 'panel-' + id);
  defs.append('clipPath').attr('id', 'clip-' + id)
    .append('rect').attr('x', X0).attr('y', p.top).attr('width', X1 - X0).attr('height', p.bottom - p.top);
  p.g.append('rect').attr('x', X0).attr('y', p.top).attr('width', X1 - X0).attr('height', p.bottom - p.top)
    .attr('fill', COLORS.bg);
  p.g.selectAll('rect.band').data(pumpingPeriods).join('rect').attr('class', 'band')
    .attr('x', d => x(dayToDate(d[0]))).attr('width', d => x(dayToDate(d[1])) - x(dayToDate(d[0])))
    .attr('y', p.top).attr('height', p.bottom - p.top).attr('fill', COLORS.band);
  p.plot = p.g.append('g').attr('clip-path', `url(#clip-${id})`);
  if (p.zero) {
    p.plot.append('line').attr('x1', X0).attr('x2', X1).attr('y1', p.y(0)).attr('y2', p.y(0))
      .attr('stroke', '#000').attr('stroke-width', 1.1);
  }
  return p;
}

function series(p, data, color, width, curve) {
  p.plot.append('path').datum(data)
    .attr('d', d3.line().x(d => x(dayToDate(d[0]))).y(d => p.y(d[1])).curve(curve || d3.curveLinear))
    .attr('fill', 'none').attr('stroke', color).attr('stroke-width', width)
    .attr('stroke-linejoin', 'round').attr('stroke-linecap', 'round');
}

function dailyRows(rows, hours) {
  return rows.flatMap((r, k) => r.map((v, j) => [k + hours[j] / 24, v]));
}

const minorDates = d3.range(0, 59, 2).filter(d => d % 10 !== 0).map(dayToDate);
const majorDates = d3.range(0, 59, 10).map(dayToDate);

function finishPanel(p) {
  const g = p.g;
  const clean = sel => { sel.select('.domain').remove(); sel.selectAll('line').attr('stroke', '#000').attr('stroke-width', 1.6); };
  // date ticks, pointing into the plot from top and bottom
  g.append('g').attr('transform', `translate(0,${p.top})`).call(d3.axisTop(x).tickValues(minorDates).tickSize(-9).tickFormat('')).call(clean);
  g.append('g').attr('transform', `translate(0,${p.top})`).call(d3.axisTop(x).tickValues(majorDates).tickSize(-13.5).tickFormat('')).call(clean);
  g.append('g').attr('transform', `translate(0,${p.bottom})`).call(d3.axisBottom(x).tickValues(minorDates).tickSize(-9).tickFormat('')).call(clean);
  g.append('g').attr('transform', `translate(0,${p.bottom})`).call(d3.axisBottom(x).tickValues(majorDates).tickSize(-13.5).tickFormat('')).call(clean);
  // value ticks every 0.1 ft, longer at labelled values
  const lo = Math.ceil(p.domain[0] * 10 - 1e-6), hi = Math.floor(p.domain[1] * 10 + 1e-6);
  const minorVals = d3.range(lo, hi + 1).map(i => i / 10).filter(v => !p.labels.some(l => Math.abs(l - v) < 1e-6));
  const majorVals = p.labels.filter(v => v >= p.domain[0] && v <= p.domain[1]);
  [[minorVals, -9], [majorVals, -14]].forEach(([vals, size]) => {
    g.append('g').attr('transform', `translate(${X0},0)`).call(d3.axisLeft(p.y).tickValues(vals).tickSize(size).tickFormat('')).call(clean);
    g.append('g').attr('transform', `translate(${X1},0)`).call(d3.axisRight(p.y).tickValues(vals).tickSize(size).tickFormat('')).call(clean);
  });
  // frame
  g.append('rect').attr('x', X0).attr('y', p.top).attr('width', X1 - X0).attr('height', p.bottom - p.top)
    .attr('fill', 'none').attr('stroke', '#000').attr('stroke-width', 2.4);
  // value labels
  g.selectAll('text.ylab').data(p.labels).join('text').attr('class', 'ylab')
    .attr('x', 71)
    .attr('y', v => {
      let yy = p.y(v);
      if (yy > p.bottom - 5) yy = p.bottom - 5;
      if (yy < p.top + 1) yy = p.top + 1;
      return yy;
    })
    .attr('dy', '0.36em').attr('text-anchor', 'end').attr('font-size', 18.5)
    .text(v => v === 0 ? '0' : d3.format('.1f')(v).replace('-', '\u2212'));
}

function title(yBase, parts, len) {
  const t = svg.append('text').attr('x', 80).attr('y', yBase)
    .attr('font-weight', 'bold').attr('font-size', 20)
    .attr('textLength', len).attr('lengthAdjust', 'spacingAndGlyphs');
  parts.forEach(p => t.append('tspan').attr('font-style', p[1] ? 'italic' : null).text(p[0]));
}

function label(lines, xPos, yBase, opts = {}) {
  const t = svg.append('text').attr('font-size', opts.size || 18.5)
    .attr('fill', opts.color || '#111').attr('text-anchor', opts.anchor || 'start');
  lines.forEach((s, i) => t.append('tspan').attr('x', xPos).attr('y', yBase + i * (opts.lead || 20)).text(s));
}

function leader(x1, y1, x2, y2) {
  svg.append('line').attr('x1', x1).attr('y1', y1).attr('x2', x2).attr('y2', y2)
    .attr('stroke', '#000').attr('stroke-width', 1.1);
}

// Panel 1: barometric pressure
const p1 = setupPanel('bp');
series(p1, bp1week, COLORS.bp1week, 2.2, d3.curveBasis);
series(p1, bp2day, COLORS.bp2day, 2.3, d3.curveCatmullRom);
series(p1, bp6hour, COLORS.bp6hour, 2, d3.curveLinear);
series(p1, bp12hour, COLORS.bp12hour, 2.2, d3.curveCatmullRom);
finishPanel(p1);

// Panel 2: background well water level
const p2 = setupPanel('bwl');
series(p2, bwl2week, COLORS.bwl2week, 5.5, d3.curveBasis);
series(p2, bwl2hour, COLORS.bwl2hour, 1.6, d3.curveLinear);
series(p2, bwl1day, COLORS.bwl1day, 2, d3.curveCatmullRom);
series(p2, bwl1hour, COLORS.bwl1hour, 2.1, d3.curveLinear);
finishPanel(p2);

// Panel 3: tidal signals
const p3 = setupPanel('tide');
series(p3, dailyRows(tidal1, tidal1Hours), COLORS.tidal1, 1.4, d3.curveLinear);
series(p3, dailyRows(tidal2, tidal2Hours), COLORS.tidal2, 4.2, d3.curveMonotoneX);
finishPanel(p3);

// Panel 4: Theis model
const p4 = setupPanel('theis');
series(p4, theis, COLORS.theis, 4, d3.curveMonotoneX);
finishPanel(p4);

// Panel 5: measured / simulated water levels and drawdown
const p5 = setupPanel('obs');
p5.plot.selectAll('circle').data(measured).join('circle')
  .attr('cx', d => x(dayToDate(d[0]))).attr('cy', d => p5.y(d[1])).attr('r', 5)
  .attr('fill', 'none').attr('stroke', COLORS.measured).attr('stroke-width', 1.1);
series(p5, simulated, COLORS.simulated, 2.3, d3.curveLinear);
series(p5, drawdown, COLORS.drawdown, 1.4, d3.curveLinear);
series(p5, residual, COLORS.residual, 1.4, d3.curveLinear);
finishPanel(p5);

// Date axis labels
const xAxisG = svg.append('g').attr('transform', `translate(0,${p5.bottom})`)
  .call(d3.axisBottom(x).tickValues(labelDays.map(dayToDate)).tickSize(0).tickPadding(14.5)
    .tickFormat(d3.timeFormat('%-m/%-d/%Y')));
xAxisG.select('.domain').remove();
xAxisG.selectAll('text').attr('font-size', 17).attr('fill', '#111')
  .attr('font-family', '"Liberation Sans", Arial, sans-serif');
xAxisG.select('.tick text').attr('dx', 4);

svg.append('text').attr('x', 583).attr('y', 1687).attr('text-anchor', 'middle')
  .attr('font-weight', 'bold').attr('font-size', 21).text('Date');

svg.append('text').attr('transform', 'translate(27,838.5) rotate(-90)').attr('text-anchor', 'middle')
  .attr('font-weight', 'bold').attr('font-size', 21)
  .attr('textLength', 263).attr('lengthAdjust', 'spacingAndGlyphs')
  .text('Water-level change, in feet');

// Panel titles
title(25, [['Barometric pressure (BP) moving-average (MA) time series for background well '], ['ER-20-6-3', true]], 857);
title(361.7, [['Background well water-level (BWL) moving-average (MA) time series for background well '], ['ER-20-6-3', true]], 961);
title(886, [['Tidal signals']], 121);
title(1139.3, [['Theis model of pumping signal from '], ['ER-EC-11 main', true]], 483);
title(1318.3, [['Measured and simulated water levels and drawdown in observation well '], ['ER-20-7', true]], 778);

// Pumping period captions
label(['Pumping', 'period 1'], 480.5, 68.3, { color: COLORS.pumpText, anchor: 'end', lead: 19 });
label(['Pumping', 'period 2'], 704.5, 68.3, { color: COLORS.pumpText, anchor: 'end', lead: 19 });

// Series labels with leader lines
label(['BP 2-day MA'], 105, 72.7); leader(220.4, 70, 241, 83.3);
label(['BP 1-week MA'], 758.4, 179.3); leader(832.6, 176.7, 818.9, 206.7);
label(['BP 12-hour MA'], 124.7, 310.7); leader(164.6, 292.7, 146.3, 263.3);
label(['BP 6-hour MA'], 873.6, 307); leader(908.8, 287.3, 895.8, 246);

label(['BWL 1-hour MA'], 108.5, 439.3); leader(230, 446, 254.8, 462.7);
label(['BWL 2-week MA'], 772.7, 701.7); leader(787, 709.3, 764.2, 755);
label(['BWL 1-day MA'], 106, 830.7); leader(210.7, 810, 231.4, 785);
label(['BWL 2-hour MA'], 906.8, 830.7); leader(923.2, 811.7, 906, 790);

label(['Tidal signal 1'], 758.4, 935); leader(775.5, 941, 745.4, 990);
label(['Tidal signal 2'], 937.9, 966.7); leader(947.8, 970, 939.6, 996);

label(['Analytically', 'simulated'], 212.8, 1353.3, { anchor: 'end' });
label(['water level'], 208.5, 1393.3, { anchor: 'end' }); leader(217, 1391.7, 248.6, 1412.7);
label(['Measured water level'], 625.7, 1370); leader(619.6, 1365, 598.4, 1405);
label(['Residual', 'differences'], 934.4, 1435.7); leader(953.9, 1462.7, 916.3, 1532.7);
label(['Drawdown'], 831.5, 1615); leader(827.4, 1603.3, 810.3, 1590);
</script>
</body>
</html>
